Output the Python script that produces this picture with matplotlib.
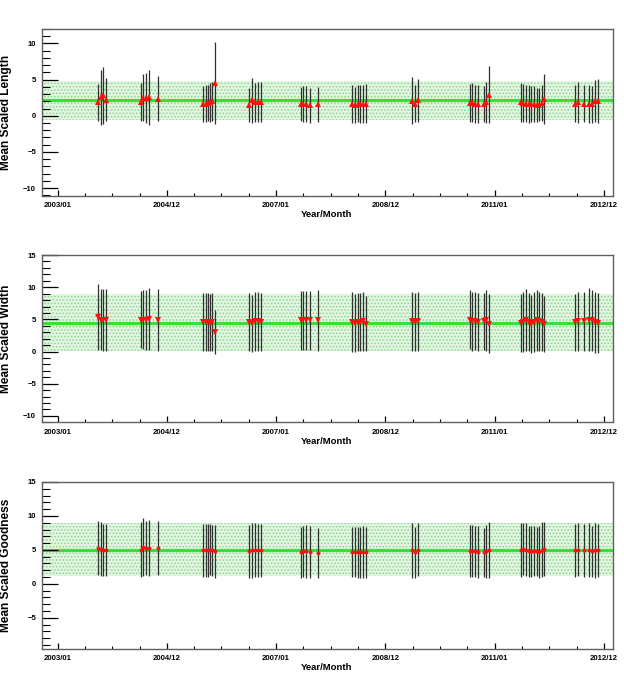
import numpy as np
import matplotlib
matplotlib.use('Agg')
import matplotlib.pyplot as plt
from matplotlib.ticker import MultipleLocator, FixedLocator

plt.rcParams['font.family'] = ['Liberation Sans', 'DejaVu Sans']
plt.rcParams['hatch.linewidth'] = 0.8

# months counted from 2003/01
months = [8.85, 9.43, 9.94, 10.59,
          18.08, 18.66, 19.24, 19.96, 21.85,
          31.73, 32.24, 32.67, 33.25, 33.69, 34.27,
          41.75, 42.40, 43.06, 43.64, 44.22,
          52.93, 53.51, 54.10, 55.04, 56.78,
          64.19, 64.77, 65.35, 65.93, 66.58, 67.24,
          77.26, 77.91, 78.50,
          89.75, 90.33, 90.99, 91.64, 92.80, 93.38, 94.04,
          100.87, 101.44, 102.03, 102.61, 103.19, 103.77, 104.35, 104.86, 105.44, 106.02,
          112.70, 113.28, 114.59, 115.82, 116.40, 117.06, 117.78]

length_mean = [1.84, 2.54, 2.81, 2.21,
               1.89, 2.49, 2.44, 2.54, 2.35,
               1.66, 1.66, 1.75, 1.89, 1.98, 4.52,
               1.48, 2.12, 1.84, 1.84, 1.94,
               1.61, 1.61, 1.61, 1.48, 1.61,
               1.66, 1.48, 1.66, 1.66, 1.66, 1.66,
               2.07, 1.66, 2.12,
               1.75, 1.84, 1.66, 1.66, 1.66, 1.84, 2.90,
               1.84, 1.75, 1.66, 1.66, 1.66, 1.66, 1.52, 1.52, 1.75, 2.35,
               1.66, 1.89, 1.66, 1.66, 1.57, 2.03, 2.03]
length_err = [2.51, 3.78, 3.99, 3.00,
              2.63, 3.27, 3.46, 3.80, 3.11,
              2.47, 2.53, 2.53, 2.70, 2.65, 5.69,
              2.37, 3.06, 2.70, 2.76, 2.76,
              2.35, 2.47, 2.47, 2.42, 2.42,
              2.65, 2.44, 2.53, 2.65, 2.65, 2.72,
              3.23, 2.53, 2.93,
              2.60, 2.65, 2.60, 2.60, 2.49, 2.81, 3.96,
              2.72, 2.60, 2.53, 2.60, 2.47, 2.49, 2.37, 2.30, 2.47, 3.46,
              2.58, 2.83, 2.53, 2.60, 2.58, 2.93, 3.00]

width_mean = [5.32, 4.95, 4.85, 4.85,
              4.95, 4.95, 4.95, 5.06, 4.95,
              4.64, 4.59, 4.59, 4.54, 4.54, 3.08,
              4.54, 4.43, 4.69, 4.69, 4.59,
              4.85, 4.85, 4.85, 4.85, 4.85,
              4.59, 4.43, 4.54, 4.54, 4.69, 4.33,
              4.69, 4.59, 4.69,
              4.95, 4.69, 4.69, 4.59, 4.69, 4.85, 4.33,
              4.43, 4.59, 4.85, 4.59, 4.33, 4.59, 4.85, 4.69, 4.59, 4.33,
              4.54, 4.69, 4.69, 4.95, 4.85, 4.54, 4.43]
width_err = [5.13, 4.77, 4.84, 4.84,
             4.45, 4.56, 4.64, 4.77, 4.82,
             4.51, 4.51, 4.51, 4.43, 4.51, 3.39,
             4.51, 4.43, 4.56, 4.58, 4.51,
             4.56, 4.56, 4.61, 4.56, 4.69,
             4.64, 4.48, 4.51, 4.51, 4.64, 4.32,
             4.58, 4.51, 4.64,
             4.61, 4.56, 4.51, 4.51, 4.43, 4.74, 4.61,
             4.48, 4.69, 4.82, 4.58, 4.48, 4.64, 4.79, 4.61, 4.58, 4.38,
             4.43, 4.64, 4.64, 4.90, 4.69, 4.79, 4.61]

good_mean = [5.27, 5.13, 5.03, 5.03,
             5.03, 5.42, 5.27, 5.27, 5.27,
             4.93, 4.93, 4.93, 5.03, 4.93, 4.78,
             4.78, 4.93, 5.03, 4.93, 4.93,
             4.68, 4.78, 4.78, 4.68, 4.54,
             4.68, 4.68, 4.68, 4.68, 4.68, 4.68,
             4.93, 4.64, 5.03,
             4.83, 4.78, 4.78, 4.68, 4.64, 4.78, 5.03,
             5.03, 5.13, 5.03, 4.78, 4.78, 4.78, 4.78, 4.68, 5.03, 5.18,
             4.93, 5.03, 4.93, 5.03, 4.78, 4.93, 4.93]
good_err = [4.00, 3.93, 3.83, 3.83,
            4.03, 4.28, 4.00, 4.18, 3.98,
            3.93, 3.93, 3.86, 3.78, 3.78, 3.93,
            3.86, 4.00, 3.98, 3.93, 3.86,
            3.76, 3.76, 3.86, 3.83, 3.69,
            3.69, 3.69, 3.76, 3.76, 3.83, 3.76,
            4.00, 3.76, 3.86,
            3.81, 3.81, 3.76, 3.83, 3.61, 3.86, 4.13,
            3.98, 3.88, 3.93, 3.78, 3.76, 3.69, 3.61, 3.86, 4.03, 3.98,
            3.88, 3.93, 3.93, 4.00, 3.78, 4.00, 3.93]

# overall mean and spread (green line and band)
band_mean = [2.13, 4.44, 5.03]
band_sigma = [2.70, 4.43, 3.94]

tick_labels = ['2003/01', '2004/12', '2007/01', '2008/12', '2011/01', '2012/12']
tick_months = [0, 23.8, 47.6, 71.4, 95.2, 119.0]

ylabels = ['Mean Scaled Length', 'Mean Scaled Width', 'Mean Scaled Goodness']
means = [length_mean, width_mean, good_mean]
errs = [length_err, width_err, good_err]
markers = ['^', 'v', 'o']
msizes = [4.5, 4.5, 2.8]
ylims = [(-11.1, 12.0), (-11.0, 15.0), (-9.6, 15.0)]
yticks = [[-10, -5, 0, 5, 10], [-10, -5, 0, 5, 10, 15], [-5, 0, 5, 10, 15]]

fig = plt.figure(figsize=(6.24, 6.74), dpi=100)
axes_pos = [[0.0673, 0.7092, 0.9151, 0.2478],
            [0.0673, 0.3734, 0.9151, 0.2482],
            [0.0673, 0.0371, 0.9151, 0.2478]]

for i in range(3):
    ax = fig.add_axes(axes_pos[i])
    ax.set_xlim(-3.4, 121.0)
    ax.set_ylim(*ylims[i])
    m, s = band_mean[i], band_sigma[i]
    # dotted green band
    ax.axhspan(m - s, m + s, facecolor='#e4f6e4', edgecolor='#8fd68f', hatch='.....', lw=0, zorder=0)
    ax.axhline(m, color='#3ddc3d', lw=2.3, zorder=1)
    ax.errorbar(months, means[i], yerr=errs[i], fmt='none', ecolor='#303030', elinewidth=0.9, zorder=2)
    ax.plot(months, means[i], linestyle='none', marker=markers[i], markersize=msizes[i],
            color='#ff1010', markeredgewidth=0, zorder=3)

    ax.yaxis.set_major_locator(FixedLocator(yticks[i]))
    ax.yaxis.set_minor_locator(MultipleLocator(1))
    ax.xaxis.set_major_locator(FixedLocator(tick_months))
    ax.xaxis.set_minor_locator(MultipleLocator(23.8 / 4))
    ax.set_xticklabels(tick_labels)
    ax.tick_params(axis='y', which='major', direction='in', length=11.5, width=0.9, pad=4.3,
                   labelsize=5.5, left=True, right=False)
    ax.tick_params(axis='y', which='minor', direction='in', length=5.8, width=0.8, left=True, right=False)
    ax.tick_params(axis='x', which='major', direction='in', length=4.3, width=0.9, pad=4.5,
                   labelsize=5.6, top=False)
    ax.tick_params(axis='x', which='minor', direction='in', length=2.2, width=0.8, top=False)
    for lab in ax.get_xticklabels() + ax.get_yticklabels():
        lab.set_fontweight('bold')
    for sp in ax.spines.values():
        sp.set_color('#606060')
        sp.set_linewidth(1.0)

    ax.set_ylabel(ylabels[i], fontsize=8.6, fontweight='bold')
    ax.yaxis.set_label_coords(-0.053, 0.5)
    ax.set_xlabel('Year/Month', fontsize=6.8, fontweight='bold')
    ax.xaxis.set_label_coords(0.499, -0.085)

fig.savefig('out.png', dpi=100)
